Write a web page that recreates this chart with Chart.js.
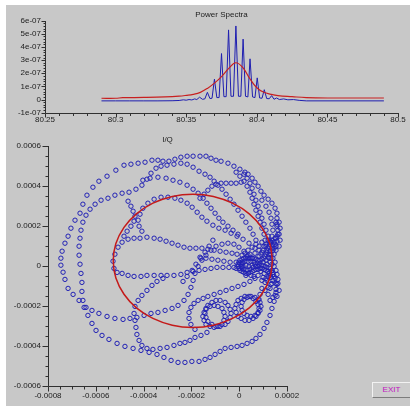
<!DOCTYPE html>
<html>
<head>
<meta charset="utf-8">
<script src="https://cdn.jsdelivr.net/npm/chart.js@4.4.1/dist/chart.umd.min.js"></script>
<style>
  html, body { margin: 0; padding: 0; background: #ffffff; width: 410px; height: 406px; overflow: hidden; }
  #panel { position: absolute; left: 6px; top: 5px; width: 404px; height: 401px; background: #c8c8c8; }
  canvas { position: absolute; left: 0; }
  #spectrum { top: 0; }
  #iq { top: 130px; }
  #exit {
    position: absolute; left: 372px; top: 382px; width: 37px; height: 14px;
    border-top: 1px solid #f2f2f2; border-left: 1px solid #f2f2f2;
    border-bottom: 1px solid #7c7c7c; border-right: 1px solid #7c7c7c;
    background: #cccccc; color: #c010c0;
    font: 8px 'Liberation Sans', Arial, sans-serif; line-height: 14px; text-align: center;
  }
</style>
</head>
<body>
<div id="panel"></div>
<canvas id="spectrum" width="410" height="130"></canvas>
<canvas id="iq" width="410" height="276"></canvas>
<div id="exit">EXIT</div>

<script>
// Power spectrum (power in units of 1e-7)
var POWER_UNIT = 1e-7
var spectrumFreq = [80.290, 80.300, 80.310, 80.320, 80.330, 80.340, 80.345, 80.348, 80.350, 80.352, 80.354, 80.356, 80.3575,
  80.3595, 80.3615, 80.3632, 80.3650, 80.3668, 80.3683, 80.3700, 80.3717, 80.3733, 80.3750, 80.3767, 80.3783,
  80.3800, 80.3817, 80.3835, 80.3852, 80.3870, 80.3887, 80.3903, 80.3920, 80.3937, 80.3952, 80.3970, 80.3987,
  80.4003, 80.4020, 80.4037, 80.4053, 80.4070, 80.4088, 80.4105, 80.4122, 80.414, 80.416, 80.419, 80.422,
  80.426, 80.430, 80.435, 80.490]
var spectrumPower = [-0.1, -0.1, -0.1, -0.1, -0.1, -0.09, -0.07, -0.02, -0.05, 0.0, -0.03, 0.05, 0.0,
  0.18, 0.02, 0.05, 0.55, 0.08, 0.1, 1.55, 0.15, 0.15, 3.5, 0.22, 0.22,
  5.3, 0.25, 0.25, 5.6, 0.25, 0.25, 4.6, 0.25, 0.2, 3.1, 0.2, 0.15,
  1.65, 0.12, 0.1, 0.75, 0.08, 0.06, 0.3, 0.02, 0.12, 0.0, 0.05, -0.02,
  0.0, -0.06, -0.1, -0.1]
var fitFreq = [80.290, 80.300, 80.305, 80.320, 80.335, 80.345, 80.350, 80.355, 80.360, 80.365, 80.370, 80.375,
  80.380, 80.385, 80.390, 80.395, 80.400, 80.405, 80.410, 80.415, 80.425, 80.435, 80.450, 80.490]
var fitPower = [0.1, 0.1, 0.14, 0.16, 0.2, 0.26, 0.32, 0.4, 0.55, 0.85, 1.25, 1.75,
  2.35, 2.8, 2.45, 1.6, 0.9, 0.55, 0.4, 0.3, 0.22, 0.15, 0.12, 0.12]

// I/Q trace, [I, Q] in units of 1e-4
var IQ_UNIT = 1e-4
var ringOuter = [[1.54,0.99],[1.58,1.24],[1.58,1.49],[1.62,1.79],[1.58,2.09],[1.58,2.39],[1.58,2.64],[1.50,2.89],
  [1.37,3.14],[1.21,3.34],[1.04,3.54],[0.91,3.74],[0.79,3.99],[0.66,4.19],[0.54,4.39],[0.37,4.59],[0.24,4.69],
  [0.03,4.84],[-0.22,4.99],[-0.47,5.14],[-0.76,5.24],[-0.97,5.29],[-1.18,5.39],[-1.39,5.49],[-1.64,5.49],
  [-1.93,5.49],[-2.18,5.49],[-2.44,5.44],[-2.69,5.34],[-2.94,5.24],[-3.19,5.24],[-3.40,5.29],[-3.65,5.29],
  [-3.94,5.19],[-4.23,5.14],[-4.53,5.09],[-4.82,5.04],[-5.16,4.79],[-5.53,4.49],[-5.87,4.24],[-6.12,3.94],
  [-6.37,3.54],[-6.54,3.09],[-6.66,2.64],[-6.87,2.29],[-7.04,1.89],[-7.16,1.49],[-7.29,1.14],[-7.41,0.74],
  [-7.46,0.39],[-7.46,0.04],[-7.37,-0.31],[-7.29,-0.67],[-7.16,-1.12],[-6.95,-1.42],[-6.70,-1.72],[-6.49,-2.07],
  [-6.33,-2.47],[-6.16,-2.87],[-5.99,-3.22],[-5.74,-3.47],[-5.45,-3.67],[-5.11,-3.87],[-4.78,-4.02],[-4.44,-4.12],
  [-4.11,-4.22],[-3.77,-4.32],[-3.44,-4.42],[-3.15,-4.57],[-2.85,-4.72],[-2.56,-4.82],[-2.27,-4.82],[-1.98,-4.77],
  [-1.68,-4.77],[-1.43,-4.67],[-1.22,-4.57],[-1.01,-4.42],[-0.80,-4.27],[-0.59,-4.12],[-0.34,-4.07],[-0.09,-4.02],
  [0.12,-3.97],[0.33,-3.87],[0.54,-3.77],[0.70,-3.62],[0.87,-3.42],[1.04,-3.12],[1.16,-2.82],[1.29,-2.47],
  [1.37,-2.12],[1.46,-1.77],[1.50,-1.47],[1.54,-1.17],[1.54,-0.87],[1.50,-0.62],[1.41,-0.42],[1.33,-0.27]]
var ringSecond = [[0.95,0.69],[0.83,0.99],[0.70,1.29],[0.58,1.59],[0.45,1.89],[0.28,2.19],[0.12,2.49],[-0.05,2.79],
  [-0.22,3.09],[-0.38,3.34],[-0.55,3.59],[-0.72,3.84],[-0.89,4.04],[-1.05,4.24],[-1.22,4.44],[-1.43,4.59],
  [-1.68,4.74],[-1.93,4.94],[-2.18,5.09],[-2.44,5.14],[-2.73,5.09],[-3.02,5.04],[-3.27,4.99],[-3.48,4.89],
  [-3.69,4.64],[-3.86,4.34],[-4.07,4.04],[-4.32,3.84],[-4.61,3.69],[-4.90,3.64],[-5.20,3.54],[-5.49,3.39],
  [-5.78,3.29],[-6.03,3.09],[-6.24,2.84],[-6.41,2.54],[-6.54,2.19],[-6.62,1.79],[-6.66,1.39],[-6.70,0.99],
  [-6.70,0.54],[-6.66,0.09],[-6.62,-0.37],[-6.58,-0.82],[-6.58,-1.27],[-6.54,-1.72],[-6.41,-2.07],[-6.16,-2.22],
  [-5.87,-2.37],[-5.53,-2.52],[-5.20,-2.62],[-4.86,-2.67],[-4.57,-2.62],[-4.28,-2.57],[-3.98,-2.47],[-3.69,-2.37],
  [-3.40,-2.32],[-3.10,-2.22],[-2.81,-2.12],[-2.56,-1.97],[-2.31,-1.72],[-2.14,-1.42],[-2.02,-1.07],[-1.93,-0.72],
  [-1.85,-0.37],[-1.72,-0.02],[-1.56,0.29],[-1.39,0.54],[-1.18,0.79],[-0.97,0.99],[-0.72,1.09],[-0.47,1.14],
  [-0.22,1.09],[-0.01,0.94],[0.20,0.74],[0.37,0.54]]
var petalMid = [[0.54,0.39],[0.33,0.49],[0.12,0.54],[-0.09,0.59],[-0.30,0.64],[-0.55,0.69],[-0.80,0.74],[-1.05,0.79],
  [-1.31,0.84],[-1.56,0.89],[-1.81,0.89],[-2.06,0.89],[-2.31,0.94],[-2.56,1.04],[-2.81,1.14],[-3.06,1.24],
  [-3.31,1.34],[-3.56,1.39],[-3.86,1.44],[-4.15,1.39],[-4.40,1.39],[-4.65,1.34],[-4.90,1.19],[-5.07,0.94],
  [-5.20,0.59],[-5.28,0.24],[-5.24,-0.12],[-5.11,-0.32],[-4.90,-0.37],[-4.65,-0.47],[-4.40,-0.52],[-4.11,-0.52],
  [-3.86,-0.47],[-3.56,-0.47],[-3.27,-0.47],[-3.02,-0.47],[-2.73,-0.47],[-2.44,-0.42],[-2.18,-0.32],[-1.93,-0.27],
  [-1.68,-0.22],[-1.43,-0.17],[-1.18,-0.12],[-0.93,-0.07],[-0.68,-0.07],[-0.43,-0.07],[-0.22,-0.07]]
var loopsLower = [[1.21,-0.52],[1.08,-0.82],[0.95,-1.12],[0.87,-1.42],[0.83,-1.67],
  [0.79,-1.92],[0.83,-2.12],[0.79,-2.32],[0.70,-2.52],[0.58,-2.62],[0.41,-2.72],[0.24,-2.72],[0.08,-2.62],
  [-0.05,-2.52],[-0.13,-2.32],[-0.18,-2.12],[-0.13,-1.92],[-0.05,-1.72],[0.08,-1.62],[0.24,-1.52],[0.41,-1.52],
  [0.58,-1.62],[0.70,-1.77],
  [-0.34,-2.37],[-0.38,-2.57],[-0.47,-2.77],[-0.59,-2.92],[-0.80,-3.02],[-0.97,-3.02],[-1.14,-2.92],[-1.31,-2.77],
  [-1.39,-2.57],[-1.43,-2.37],[-1.39,-2.17],[-1.31,-1.97],[-1.14,-1.82],[-0.97,-1.72],[-0.80,-1.72],[-0.59,-1.82],
  [-0.47,-1.97],[-0.38,-2.17],
  [-0.59,-2.52],[-0.64,-2.72],[-0.72,-2.92],[-0.89,-3.02],[-1.05,-3.07],[-1.22,-3.02],[-1.39,-2.92],[-1.47,-2.72],
  [-1.52,-2.52],[-1.47,-2.32],[-1.39,-2.12],[-1.22,-2.02],[-1.05,-1.97],[-0.89,-2.02],[-0.72,-2.12],[-0.64,-2.32],
  [0.91,-2.02],[0.87,-2.22],[0.79,-2.37],[0.66,-2.47],[0.49,-2.52],[0.33,-2.47],[0.20,-2.37],[0.12,-2.22],
  [0.08,-2.02],[0.12,-1.82],[0.20,-1.67],[0.33,-1.57],[0.49,-1.52],[0.66,-1.57],[0.79,-1.67],[0.87,-1.82],
  [-1.35,-3.32],[-1.60,-3.47],[-1.85,-3.57],[-2.06,-3.72],[-2.27,-3.82],[-2.48,-3.87],[-2.73,-3.97],[-3.02,-4.07],
  [-3.31,-4.12],[-3.61,-4.17],[-3.86,-4.12],[-4.07,-3.97],[-4.19,-3.72],[-4.28,-3.42],[-4.32,-3.07],[-4.36,-2.72],
  [-4.40,-2.37],[-4.36,-2.02],[-4.23,-1.72],[-4.07,-1.47],[-3.86,-1.22],[-3.65,-0.97],[-3.44,-0.77],[-3.19,-0.62]]
var petalUpper = [[0.66,0.89],[0.41,1.14],[0.16,1.34],[-0.09,1.49],[-0.34,1.64],[-0.59,1.79],[-0.85,1.89],[-1.10,2.04],
  [-1.35,2.24],[-1.56,2.44],[-1.76,2.69],[-1.97,2.94],[-2.18,3.14],[-2.44,3.29],[-2.69,3.39],[-2.98,3.44],
  [-3.27,3.44],[-3.56,3.34],[-3.82,3.14],[-4.03,2.89],[-4.15,2.59],[-4.23,2.29],[-4.19,1.99],[-4.07,1.74]]
var arcRight = [[0.20,4.59],[0.33,4.39],[0.45,4.14],[0.54,3.89],[0.62,3.59],[0.70,3.29],[0.79,2.99],[0.87,2.69],
  [0.95,2.39],[1.04,2.09],[1.12,1.79],[1.21,1.49],[1.29,1.24],
  [-0.13,4.69],[0.03,4.49],[0.20,4.24],[0.33,3.99],[0.45,3.69],[0.54,3.39],[0.62,3.09],[0.70,2.79],
  [0.79,2.49],[0.87,2.19],[0.95,1.89],[1.04,1.59],[1.08,1.29],[1.12,0.99],
  [0.95,3.29],[1.12,2.99],[1.25,2.69],[1.33,2.39],[1.37,2.09],[1.41,1.79],[1.37,1.49],[1.29,1.19]]
var linkLeft = [[-4.65,3.24],[-4.53,2.99],[-4.44,2.74],[-4.36,2.49],[-4.40,2.24],[-4.53,1.99],[-4.69,1.74],[-4.82,1.49]]
var spokeUpper = [[-4.03,4.29],[-3.73,4.39],[-3.40,4.44],[-3.06,4.39],[-2.77,4.29],[-2.48,4.19],[-2.18,4.04],
  [-1.93,3.84],[-1.72,3.64],[-1.51,3.39],[-1.35,3.14],[-1.18,2.89],[-1.01,2.64],[-0.85,2.39],[-0.68,2.19],
  [-0.47,1.99],[-0.26,1.79],[-0.05,1.59],
  [-1.64,3.39],[-1.47,3.59],[-1.31,3.79],[-1.14,3.99],[-0.97,4.09],[-0.76,4.14],[-0.55,4.14],[-0.34,4.14],
  [-0.13,4.14],[0.08,4.19]]
var spokeLower = [[0.66,-0.62],[0.45,-0.77],[0.20,-0.92],[-0.05,-1.02],[-0.30,-1.12],[-0.55,-1.22],[-0.80,-1.32],
  [-1.05,-1.42],[-1.31,-1.52],[-1.51,-1.62],[-1.72,-1.72],[-1.89,-1.87],[-2.02,-2.07],[-2.10,-2.32],[-2.10,-2.62],
  [-2.02,-2.92],[-1.85,-3.17],
  [-1.64,0.44],[-1.39,0.39],[-1.14,0.34],[-0.89,0.29],[-0.64,0.24],[-0.38,0.19],
  [-1.10,1.29],[-1.26,0.99],[-1.43,0.69],[-1.60,0.39],[-1.81,0.09],[-1.97,-0.22],[-2.18,-0.52],[-2.35,-0.77]]
var denseCore = [[1.37,1.29],[1.33,1.19],[1.29,1.09],[1.25,0.99],[1.21,0.89],[1.16,0.79],[1.16,0.69],[1.12,0.59],
  [1.08,0.49],[1.04,0.39],[0.95,0.34],[0.87,0.29],[0.79,0.29],[0.70,0.34],[0.62,0.39],[0.54,0.39],[0.45,0.39],
  [0.37,0.39],[0.28,0.39],[0.20,0.39],[0.12,0.34],[0.03,0.29],[-0.01,0.19],[-0.05,0.09],[-0.05,-0.02],
  [-0.01,-0.12],[0.03,-0.22],[0.12,-0.27],[0.20,-0.32],[0.28,-0.37],[0.37,-0.37],[0.45,-0.32],[0.54,-0.27],
  [0.62,-0.22],[0.70,-0.17],[0.79,-0.17],[0.87,-0.12],[0.95,-0.12],[1.04,-0.17],[1.12,-0.22],[1.21,-0.27],
  [1.25,-0.37],[1.29,-0.47],[1.33,-0.57],
  [1.46,1.19],[1.41,1.04],[1.37,0.89],[1.29,0.74],[1.25,0.59],[1.21,0.44],[1.12,0.29],[1.00,0.19],[0.87,0.14],
  [0.75,0.14],[0.62,0.19],[0.49,0.24],[0.37,0.24],[0.24,0.24],[0.12,0.19],[0.08,0.09],[0.08,-0.02],[0.12,-0.12],
  [0.20,-0.17],[0.33,-0.22],[0.45,-0.17],[0.58,-0.07],[0.70,-0.02],[0.83,0.04],[0.95,0.04],[1.08,-0.02],
  [1.16,-0.07],[1.29,-0.12],[1.37,-0.22],[1.41,-0.32],
  [0.95,1.19],[1.04,0.99],[1.00,0.79],[0.91,0.59],[0.83,0.49],[1.12,1.09],[1.21,1.29],[1.50,1.39],[1.46,0.89],
  [1.33,0.39],[1.46,-0.52],[1.41,-0.72],[1.33,-0.92],[1.21,-1.07],[1.08,-1.22],
  [1.54,2.19],[1.58,1.99],[1.62,1.59],[1.54,1.39],[1.50,1.09],[1.41,0.79],[1.33,0.59],[1.25,0.39],[1.41,0.39],
  [1.50,0.19],[1.46,-0.02],[1.54,-0.22],[1.58,-0.42],[1.62,-0.67],[1.58,-0.92],[1.54,-1.32],[1.41,-1.57],
  [1.29,-1.72],[1.21,-1.42],[1.29,-1.12],[1.37,-0.87],[1.16,-0.72],[1.00,-0.57],[0.79,-0.47],[0.62,-0.52],
  [0.37,0.79],[0.54,0.94],[0.70,1.09],[0.83,0.79],[0.66,0.64],[0.45,0.59],[0.24,0.64],
  [0.16,0.14],[0.28,0.04],[0.41,-0.02],[0.54,0.04],[0.66,0.09],[0.79,-0.02],[0.91,-0.27],[1.04,-0.37],
  [1.16,0.09],[1.29,0.19],[1.37,0.09],[1.46,0.59],[1.54,0.79],[1.67,0.99],[1.71,1.29],[1.67,1.59],[1.71,1.89],
  [1.67,2.19],[1.62,-0.87],[1.67,-1.22],[1.58,-1.52],[0.16,-0.02],[0.03,0.14],[-0.13,0.19],[-0.13,-0.12],
  [0.28,-0.47],[0.49,-0.47],[1.12,-0.62],[0.95,-0.72]]
// fitted circle
var fitCircle = [[1.39,0.26],[1.28,1.12],[0.94,1.93],[0.42,2.61],[-0.28,3.14],[-1.08,3.48],[-1.94,3.59],
  [-2.80,3.48],[-3.61,3.14],[-4.30,2.61],[-4.82,1.93],[-5.16,1.12],[-5.27,0.26],[-5.16,-0.60],[-4.82,-1.41],
  [-4.30,-2.09],[-3.61,-2.62],[-2.80,-2.96],[-1.94,-3.07],[-1.08,-2.96],[-0.28,-2.62],[0.42,-2.09],[0.94,-1.41],
  [1.28,-0.60],[1.39,0.26]]

var FONT = "'Liberation Sans', Arial, sans-serif"
var TEXT = '#1c1c1c'

// draws axis lines with major and minor tick marks using the chart's scales
var axisTicks = {
    id: 'axisTicks',
    afterDraw(chart, args, o) {
        var ctx = chart.ctx, a = chart.chartArea
        var xs = chart.scales.x, ys = chart.scales.y
        var bottom = Math.round(a.bottom) + 0.5, left = Math.round(a.left) + 0.5
        ctx.save()
        ctx.strokeStyle = '#303030'
        ctx.lineWidth = 1
        ctx.beginPath()
        ctx.moveTo(left, Math.round(a.top))
        ctx.lineTo(left, bottom)
        ctx.lineTo(Math.round(a.right) + 1, bottom)
        var nx = Math.round((xs.max - xs.min) / o.xMinor)
        for (var i = 0; i <= nx; i++) {
            var px = Math.round(xs.getPixelForValue(xs.min + i * o.xMinor)) + 0.5
            ctx.moveTo(px, bottom)
            ctx.lineTo(px, bottom + (i % o.xPer === 0 ? o.xMajorLen : o.xMinorLen))
        }
        var ny = Math.round((ys.max - ys.min) / o.yMinor)
        for (var j = 0; j <= ny; j++) {
            var py = Math.round(ys.getPixelForValue(ys.min + j * o.yMinor)) + 0.5
            ctx.moveTo(left, py)
            ctx.lineTo(left - (j % o.yPer === 0 ? o.yMajorLen : o.yMinorLen), py)
        }
        ctx.stroke()
        ctx.restore()
    }
}

function expLabel(v) {
    if (Math.abs(v) < 1e-12) return '0'
    return v.toExponential(0).replace(/e([+-])(\d)$/, function (m, s, d) { return 'e' + s + '0' + d })
}

function fixedLabel(digits) {
    return function (v) { return Number(v.toFixed(digits)).toString() }
}

function axis(min, max, step, padding, cb, fit) {
    return {
        type: 'linear', min: min, max: max,
        grid: { display: false, drawTicks: false },
        border: { display: false },
        ticks: { stepSize: step, padding: padding, color: TEXT, font: { family: FONT, size: 8 },
                 maxRotation: 0, autoSkip: false, callback: cb },
        afterFit: fit
    }
}

function toPoints(xs, ys, unit) {
    return xs.map(function (x, i) { return { x: x, y: ys[i] * unit } })
}

function toIQ(list) {
    return list.map(function (p) { return { x: p[0] * IQ_UNIT, y: p[1] * IQ_UNIT } })
}

function createSpectrumChart() {
    new Chart('spectrum', {
        type: 'scatter',
        data: {
            datasets: [{
                data: toPoints(fitFreq, fitPower, POWER_UNIT),
                showLine: true, borderColor: '#c82020', borderWidth: 1.2, pointRadius: 0, tension: 0.4
            }, {
                data: toPoints(spectrumFreq, spectrumPower, POWER_UNIT),
                showLine: true, borderColor: '#1e1eb0', borderWidth: 1, pointRadius: 0, tension: 0
            }]
        },
        options: {
            responsive: false, animation: false,
            layout: { padding: { left: 0, right: 12, top: 0, bottom: 0 } },
            plugins: {
                legend: { display: false }, tooltip: { enabled: false },
                title: { display: true, text: 'Power Spectra', fullSize: false, color: TEXT,
                         font: { family: FONT, size: 8, weight: 'normal' }, padding: { top: 10.2, bottom: 0.9 } },
                axisTicks: { xMinor: 0.01, xPer: 5, xMajorLen: 4, xMinorLen: 2.5,
                             yMinor: 0.2e-7, yPer: 5, yMajorLen: 4, yMinorLen: 2 }
            },
            scales: {
                x: axis(80.25, 80.5, 0.05, 2, fixedLabel(2), function (s) { s.height = 17.3 }),
                y: axis(-1e-7, 6e-7, 1e-7, 4, expLabel, function (s) { s.width = 45 })
            }
        },
        plugins: [axisTicks]
    })
}

function createIQChart() {
    var trace = [].concat(ringOuter, ringSecond, petalMid, loopsLower, petalUpper,
                          arcRight, linkLeft, spokeUpper, spokeLower, denseCore)
    new Chart('iq', {
        type: 'scatter',
        data: {
            datasets: [{
                data: toIQ(fitCircle),
                showLine: true, borderColor: '#c41a1a', borderWidth: 1.5, pointRadius: 0, tension: 0.4
            }, {
                data: toIQ(trace),
                pointStyle: 'circle', pointRadius: 2.2, borderWidth: 1,
                borderColor: '#2020b4', backgroundColor: 'rgba(0,0,0,0)'
            }]
        },
        options: {
            responsive: false, animation: false,
            layout: { padding: { left: 0, right: 123, top: 0, bottom: 0 } },
            plugins: {
                legend: { display: false }, tooltip: { enabled: false },
                title: { display: true, text: 'I/Q', fullSize: false, color: TEXT,
                         font: { family: FONT, size: 8, weight: 'normal' }, padding: { top: 5.2, bottom: 1.2 } },
                axisTicks: { xMinor: 5e-5, xPer: 4, xMajorLen: 5, xMinorLen: 3,
                             yMinor: 5e-5, yPer: 4, yMajorLen: 6, yMinorLen: 3 }
            },
            scales: {
                x: axis(-8e-4, 2e-4, 2e-4, 4.5, fixedLabel(4), function (s) { s.height = 20 }),
                y: axis(-6e-4, 6e-4, 2e-4, 7, fixedLabel(4), function (s) { s.width = 48 })
            }
        },
        plugins: [axisTicks]
    })
}

function setup() {
    createSpectrumChart()
    createIQChart()
}

setup()
</script>
</body>
</html>
